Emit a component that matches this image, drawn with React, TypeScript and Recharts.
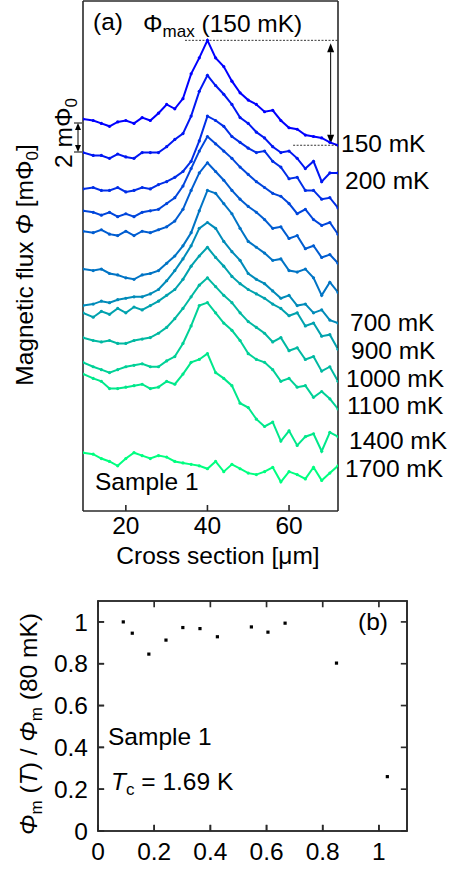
import React from "react";
import {
  LineChart,
  Line,
  XAxis,
  YAxis,
  ReferenceLine,
  ReferenceArea,
} from "recharts";

const FONT = "'Liberation Sans', Arial, Helvetica, sans-serif";
const AXIS = "#2a2a2a";
const FS = 24.5;
const SUB = 17;

// ---- panel (a): flux line scans, offset per temperature ----
const positions = [
  9.5, 12, 14, 16, 18, 20, 22, 24, 26, 28, 30, 32, 34, 36, 38, 40, 42, 44, 46,
  48, 50, 52, 54, 56, 58, 60, 62, 64, 66, 68, 70, 72,
];

const temps = [150, 200, 300, 400, 500, 600, 700, 900, 1000, 1100, 1400, 1700];

const flux150 = [26.9, 26.8, 26.6, 26.4, 26.7, 26.8, 26.6, 27.0, 26.8, 27.3, 27.9, 27.6, 28.3, 30.0, 31.1, 32.3, 31.1, 30.5, 29.5, 28.7, 28.2, 27.9, 27.4, 27.5, 26.8, 26.3, 26.2, 25.8, 25.7, 25.6, 25.3, 25.1];
const flux200 = [24.6, 24.4, 24.4, 24.2, 24.5, 24.3, 24.2, 24.6, 24.6, 24.6, 25.0, 25.5, 25.9, 27.1, 28.8, 29.9, 29.2, 28.6, 27.9, 27.0, 26.6, 26.0, 25.6, 25.0, 24.6, 24.7, 24.2, 23.5, 24.0, 22.6, 23.2, 23.2];
const flux300 = [22.1, 22.2, 22.0, 22.0, 22.2, 21.9, 22.0, 22.2, 22.1, 22.4, 22.6, 22.9, 23.3, 24.0, 25.4, 27.1, 26.8, 26.4, 25.7, 25.3, 24.9, 24.6, 24.7, 24.0, 23.6, 22.8, 22.9, 22.0, 22.0, 21.4, 21.5, 20.8];
const flux400 = [20.6, 20.5, 20.3, 20.5, 20.2, 20.4, 20.2, 20.5, 20.6, 20.7, 21.1, 21.5, 22.3, 23.5, 24.7, 25.7, 25.2, 24.7, 24.2, 23.6, 23.1, 22.6, 22.2, 21.8, 21.6, 21.1, 20.4, 20.7, 20.0, 19.6, 19.8, 19.0];
const flux500 = [19.2, 19.1, 19.3, 19.0, 18.9, 19.2, 18.9, 19.2, 19.1, 19.3, 19.5, 19.9, 20.7, 22.0, 23.2, 23.9, 23.3, 22.7, 22.0, 21.4, 20.9, 20.5, 20.0, 19.4, 19.5, 18.7, 18.9, 18.0, 18.2, 17.4, 17.6, 17.0];
const flux600 = [16.6, 16.5, 16.6, 16.3, 16.2, 16.0, 15.9, 16.2, 16.3, 16.5, 17.0, 17.5, 18.2, 19.1, 20.6, 22.0, 21.8, 21.1, 20.4, 19.4, 18.5, 18.1, 17.7, 17.2, 17.3, 16.5, 16.4, 16.6, 16.0, 14.8, 15.7, 15.0];
const flux700 = [14.1, 14.2, 14.4, 14.3, 14.5, 14.6, 14.7, 14.7, 14.9, 15.2, 15.8, 16.5, 17.3, 18.2, 19.4, 19.8, 19.4, 18.5, 17.8, 17.2, 16.3, 15.9, 15.6, 15.1, 14.6, 14.8, 14.1, 14.2, 13.6, 13.8, 13.1, 12.9];
const flux900 = [13.6, 13.3, 13.7, 13.5, 13.9, 13.6, 14.0, 13.8, 14.1, 14.4, 14.8, 15.2, 15.9, 16.8, 17.5, 18.1, 17.4, 16.8, 16.1, 15.6, 15.2, 14.9, 14.6, 14.2, 13.9, 13.4, 13.6, 12.7, 12.9, 12.0, 12.1, 11.1];
const flux1000 = [11.9, 11.7, 11.6, 11.7, 11.5, 11.5, 11.7, 11.8, 11.9, 12.2, 12.6, 13.2, 13.9, 14.7, 15.5, 16.0, 15.4, 14.8, 14.3, 13.6, 13.0, 12.6, 12.2, 11.6, 11.9, 11.0, 11.2, 10.4, 10.6, 9.6, 9.9, 8.9];
const flux1100 = [10.2, 9.9, 9.7, 9.5, 9.7, 9.9, 10.0, 10.1, 9.9, 9.9, 10.3, 10.6, 11.5, 12.7, 14.1, 14.3, 13.6, 12.9, 12.4, 11.7, 10.8, 10.4, 10.2, 9.7, 8.9, 9.1, 8.5, 8.6, 7.8, 8.2, 7.7, 7.0];
const flux1400 = [9.4, 9.1, 8.9, 8.4, 8.4, 8.5, 8.6, 8.7, 8.4, 8.5, 8.9, 8.7, 9.4, 10.2, 10.4, 10.8, 9.5, 9.1, 8.6, 7.4, 7.1, 6.3, 5.8, 6.1, 4.8, 5.5, 4.5, 5.1, 5.3, 4.1, 5.4, 5.1];
const flux1700 = [4.0, 3.9, 3.6, 3.4, 3.1, 3.6, 4.0, 3.8, 3.6, 3.8, 3.7, 3.4, 3.3, 3.2, 3.1, 2.9, 3.4, 2.7, 3.2, 2.9, 2.6, 2.5, 2.7, 3.0, 2.0, 2.7, 2.5, 2.2, 3.0, 2.1, 2.6, 3.1];

const fluxSeries = [flux150, flux200, flux300, flux400, flux500, flux600, flux700, flux900, flux1000, flux1100, flux1400, flux1700];

const xDomainA: [number, number] = [9.5, 72];
const yDomainA: [number, number] = [0, 35];
const xTicksA = [20, 40, 60];
const yTicksA = [0, 5, 10, 15, 20, 25, 30, 35];

// labels drawn at the right edge: [text, x, baseline]
const tempLabels: [string, number, number][] = [
  ["150 mK", 341, 152],
  ["200 mK", 345, 189],
  ["700 mK", 350, 331],
  ["900 mK", 351, 359],
  ["1000 mK", 346, 387],
  ["1100 mK", 347, 414],
  ["1400 mK", 349, 449],
  ["1700 mK", 345, 477],
];

// ---- panel (b): normalised maximum flux vs reduced temperature ----
const reducedT = [0.09, 0.122, 0.181, 0.242, 0.302, 0.363, 0.425, 0.546, 0.605, 0.666, 0.849, 1.03];
const phiRatio = [1.0, 0.946, 0.846, 0.913, 0.973, 0.968, 0.929, 0.976, 0.951, 0.994, 0.803, 0.26];
const domainB: [number, number] = [0, 1.1];
const ticksB = [0, 0.2, 0.4, 0.6, 0.8, 1];

// MATLAB "winter" colormap
const winter = (k: number) => {
  const f = k / (temps.length - 1);
  return `rgb(0,${Math.round(255 * f)},${Math.round(255 - 127.5 * f)})`;
};

const rows = positions.map((x, i) => {
  const r: Record<string, number> = { x };
  temps.forEach((t, k) => {
    r["T" + t] = fluxSeries[k][i];
  });
  return r;
});

const points = reducedT.map((t, i) => ({ t, phi: phiRatio[i] }));

const tickText = { fill: "#000", fontSize: FS, fontFamily: FONT };
const axisStyle = { stroke: AXIS, strokeWidth: 1.6, tickSize: -6, allowDataOverflow: true };

// panel (b) box and inward ticks as thin filled strips (data units)
const hx = 0.003; // half line width along x
const hy = 0.004; // half line width along y
const tickX = 0.022; // tick length along x
const tickY = 0.03; // tick length along y
type Strip = { x1: number; x2: number; y1: number; y2: number };
const stripsB: Strip[] = [
  { x1: 0 - hx, x2: 1.1 + hx, y1: 0 - hy, y2: 0 + hy },
  { x1: 0 - hx, x2: 1.1 + hx, y1: 1.1 - hy, y2: 1.1 + hy },
  { x1: 0 - hx, x2: 0 + hx, y1: 0 - hy, y2: 1.1 + hy },
  { x1: 1.1 - hx, x2: 1.1 + hx, y1: 0 - hy, y2: 1.1 + hy },
  ...ticksB.flatMap((v) => [
    { x1: v - hx, x2: v + hx, y1: 0, y2: tickY },
    { x1: v - hx, x2: v + hx, y1: 1.1 - tickY, y2: 1.1 },
    { x1: 0, x2: tickX, y1: v - hy, y2: v + hy },
    { x1: 1.1 - tickX, x2: 1.1, y1: v - hy, y2: v + hy },
  ]),
];

const DoubleArrow = (p: any) => {
  const { x1, y1, x2, y2 } = p;
  const h = 9;
  const w = 3.5;
  return (
    <g>
      <line x1={x1} y1={y1 + h} x2={x2} y2={y2 - h} stroke="#000" strokeWidth={1} />
      <polygon points={`${x1},${y1} ${x1 - w},${y1 + h} ${x1 + w},${y1 + h}`} fill="#000" />
      <polygon points={`${x2},${y2} ${x2 - w},${y2 - h} ${x2 + w},${y2 - h}`} fill="#000" />
    </g>
  );
};

const Square = (p: any) => {
  if (p.cx == null || p.cy == null) return <g key={p.key} />;
  return (
    <rect key={p.key} x={p.cx - 1.6} y={p.cy - 1.6} width={3.2} height={3.2} fill="#000" />
  );
};

export default function App() {
  return (
    <div style={{ position: "absolute", left: 0, top: 0, width: 450, height: 870, background: "#fff" }}>
      <div style={{ position: "absolute", left: 0, top: 0, width: 450, height: 546 }}>
        <LineChart
          width={450}
          height={546}
          data={rows}
          margin={{ top: 0, right: 111, bottom: 0, left: 82 }}
        >
          <XAxis dataKey="x" type="number" domain={xDomainA} ticks={xTicksA} height={35} tickMargin={12} tick={tickText} {...axisStyle} />
          <XAxis xAxisId="top" orientation="top" type="number" domain={xDomainA} ticks={xTicksA} height={1} tick={false} {...axisStyle} />
          <YAxis type="number" domain={yDomainA} ticks={yTicksA} width={1} tick={false} {...axisStyle} />
          <YAxis yAxisId="right" orientation="right" type="number" domain={yDomainA} ticks={yTicksA} width={1} tick={false} {...axisStyle} />
          {temps.map((t, k) => (
            <Line
              key={t}
              dataKey={"T" + t}
              stroke={winter(k)}
              strokeWidth={2}
              dot={{ r: 1.6, fill: winter(k), stroke: "none" }}
              isAnimationActive={false}
            />
          ))}
          <ReferenceLine
            segment={[{ x: 34.5, y: 32.3 }, { x: 72, y: 32.3 }]}
            stroke="#000"
            strokeWidth={0.8}
            strokeDasharray="2 1.5"
          />
          <ReferenceLine
            segment={[{ x: 61, y: 25.1 }, { x: 72, y: 25.1 }]}
            stroke="#000"
            strokeWidth={0.8}
            strokeDasharray="2 1.5"
          />
          <ReferenceLine
            segment={[{ x: 70.2, y: 32.1 }, { x: 70.2, y: 25.2 }]}
            shape={DoubleArrow}
          />
        </LineChart>
      </div>

      <div style={{ position: "absolute", left: 0, top: 580, width: 450, height: 290 }}>
        <LineChart
          width={450}
          height={290}
          data={points}
          margin={{ top: 20, right: 42, bottom: 0, left: 0 }}
        >
          <XAxis dataKey="t" type="number" domain={domainB} ticks={ticksB} height={39} tickMargin={18} tick={tickText} {...axisStyle} />
          <XAxis xAxisId="top" orientation="top" type="number" domain={domainB} ticks={ticksB} height={1} tick={false} {...axisStyle} />
          <YAxis type="number" domain={domainB} ticks={ticksB} width={98} tickMargin={16} tick={tickText} {...axisStyle} />
          <YAxis yAxisId="right" orientation="right" type="number" domain={domainB} ticks={ticksB} width={1} tick={false} {...axisStyle} />
          {stripsB.map((s, i) => (
            <ReferenceArea
              key={"s" + i}
              x1={s.x1}
              x2={s.x2}
              y1={s.y1}
              y2={s.y2}
              fill={AXIS}
              fillOpacity={1}
              stroke="none"
              ifOverflow="visible"
            />
          ))}
          <Line
            dataKey="phi"
            stroke="none"
            dot={Square}
            activeDot={false}
            legendType="none"
            isAnimationActive={false}
          />
        </LineChart>
      </div>

      <svg
        width={450}
        height={870}
        style={{ position: "absolute", left: 0, top: 0, pointerEvents: "none" }}
        fontFamily={FONT}
        fill="#000"
      >
        {/* panel (a) annotations */}
        <text x={93} y={30} fontSize={FS}>(a)</text>
        <text x={143} y={32} fontSize={FS}>
          Φ<tspan fontSize={SUB} dy={5}>max</tspan>
          <tspan dy={-5}> (150 mK)</tspan>
        </text>
        {tempLabels.map(([s, x, y]) => (
          <text key={s} x={x} y={y} fontSize={FS}>{s}</text>
        ))}
        <text x={95} y={490} fontSize={FS}>Sample 1</text>
        <text x={218} y={564} fontSize={FS} textAnchor="middle">Cross section [μm]</text>
        <text transform="translate(33,265) rotate(-90)" fontSize={FS} textAnchor="middle">
          Magnetic flux <tspan fontStyle="italic">Φ</tspan> [mΦ
          <tspan fontSize={SUB} dy={5}>0</tspan>
          <tspan dy={-5}>]</tspan>
        </text>
        <text transform="translate(72,133) rotate(-90)" fontSize={FS} textAnchor="middle">
          2 mΦ<tspan fontSize={SUB} dy={5}>0</tspan>
        </text>
        <g stroke="#000" strokeWidth={1}>
          <line x1={78} y1={130} x2={78} y2={145} />
          <line x1={74} y1={123} x2={82} y2={123} />
          <line x1={74} y1={152} x2={82} y2={152} />
        </g>
        <polygon points="78,123 75,130 81,130" />
        <polygon points="78,152 75,145 81,145" />

        {/* panel (b) annotations */}
        <text x={358} y={630} fontSize={FS}>(b)</text>
        <text x={108} y={745} fontSize={FS}>Sample 1</text>
        <text x={111} y={790} fontSize={FS}>
          <tspan fontStyle="italic">T</tspan>
          <tspan fontSize={SUB} dy={5}>c</tspan>
          <tspan dy={-5}> = 1.69 K</tspan>
        </text>
        <text transform="translate(37,724) rotate(-90)" fontSize={FS} textAnchor="middle">
          <tspan fontStyle="italic">Φ</tspan>
          <tspan fontSize={SUB} dy={5}>m</tspan>
          <tspan dy={-5}> (</tspan>
          <tspan fontStyle="italic">T</tspan>
          <tspan>) / </tspan>
          <tspan fontStyle="italic">Φ</tspan>
          <tspan fontSize={SUB} dy={5}>m</tspan>
          <tspan dy={-5}> (80 mK)</tspan>
        </text>
      </svg>
    </div>
  );
}
